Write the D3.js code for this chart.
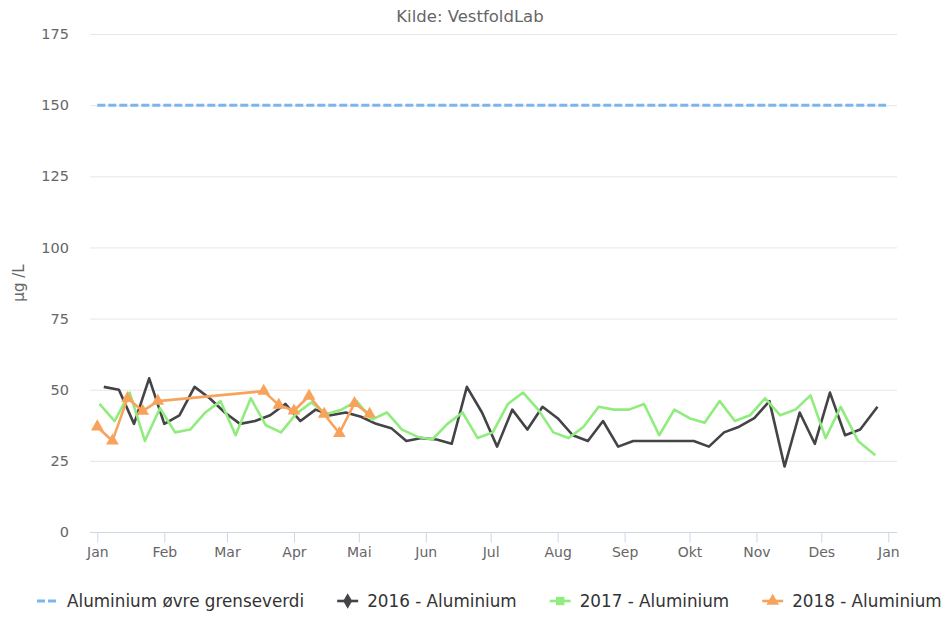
<!DOCTYPE html>
<html>
<head>
<meta charset="utf-8">
<script src="https://cdn.jsdelivr.net/npm/d3@7"></script>
<style>
  body { margin: 0; background: #fff; }
  text { font-family: "DejaVu Sans", sans-serif; }
</style>
</head>
<body>
<div id="viz-container"></div>
<script>
// data (all series drawn on a common 2016 calendar axis)
const limitDates = ['01-01', '12-31'];
const limitValues = [150, 150];

const dates2016 = ['01-04','01-11','01-18','01-25','02-01','02-08','02-15','02-22','02-29','03-07','03-14','03-21','03-28',
  '04-04','04-11','04-18','04-25','05-02','05-09','05-16','05-23','05-30','06-06','06-13','06-20','06-27',
  '07-04','07-11','07-18','07-25','08-01','08-08','08-15','08-22','08-29','09-05','09-12','09-19','09-26',
  '10-03','10-10','10-17','10-24','10-31','11-07','11-14','11-21','11-28','12-05','12-12','12-19','12-27'];
const values2016 = [51,50,38,54,38,41,51,47,42,38,39,41,45,
  39,43,41,42,40.5,38,36.5,32,33,32.5,31,51,42,
  30,43,36,44,40,34,32,39,30,32,32,32,32,
  32,30,35,37,40,46,23,42,31,49,34,36,44];

const dates2017 = ['01-02','01-09','01-16','01-23','01-30','02-06','02-13','02-20','02-27','03-05','03-12','03-19','03-26',
  '04-02','04-09','04-16','04-23','04-30','05-07','05-14','05-21','05-28','06-04','06-11','06-18','06-25',
  '07-02','07-09','07-16','07-23','07-30','08-06','08-13','08-20','08-27','09-03','09-10','09-17','09-24',
  '10-01','10-08','10-15','10-22','10-29','11-05','11-12','11-19','11-26','12-03','12-10','12-18','12-26'];
const values2017 = [45,39,49,32,43.5,35,36,42,46,34,47,37.5,35,
  41.5,45.5,41.5,43,46,39.5,42,36,33.5,32.5,38,42,33,
  35,45,49,43,35,33,37,44,43,43,45,34,43,
  40,38.4,46,39,41,47,41,43,48,33,44,32,27];

const dates2018 = ['01-01','01-08','01-15','01-22','01-29','03-18','03-25','04-01','04-08','04-15','04-22','04-29','05-06'];
const values2018 = [37,32,47,42.5,46,49.5,44.6,42.6,47.8,41.4,34.7,45.2,41.4];

const yTicks = [0, 25, 50, 75, 100, 125, 150, 175];
const monthLabels = ['Jan','Feb','Mar','Apr','Mai','Jun','Jul','Aug','Sep','Okt','Nov','Des','Jan'];

const legendNames = ['Aluminium øvre grenseverdi', '2016 - Aluminium', '2017 - Aluminium', '2018 - Aluminium'];
const colors = ['#7cb5ec', '#434348', '#90ed7d', '#f7a35c'];

let parseDay = d3.timeParse('%Y-%m-%d');
function toSeries(dates, values){
  return dates.map((d, i) => ({date: parseDay('2016-' + d), value: values[i]}));
}

let viz = d3.select('#viz-container')
  .append('svg')
    .attr('width', 951)
    .attr('height', 617)
;

let x = d3.scaleTime()
  .domain([new Date(2016, 0, 1), new Date(2017, 0, 1)])
  .range([97.3, 888.3]);
let y = d3.scaleLinear()
  .domain([0, 175])
  .range([532, 34]);

// subtitle
viz.append('text')
  .attr('x', 470)
  .attr('y', 22)
  .attr('text-anchor', 'middle')
  .attr('fill', '#666666')
  .style('font-size', '16.5px')
  .text('Kilde: VestfoldLab');

// grid
viz.append('g')
  .selectAll('line').data(yTicks.slice(1)).enter()
  .append('line')
    .attr('x1', 90)
    .attr('x2', 897)
    .attr('y1', d => y(d) + 0.5)
    .attr('y2', d => y(d) + 0.5)
    .attr('stroke', '#e6e6e6')
    .attr('stroke-width', 1);

// y axis labels
let yAxis = d3.axisLeft(y).tickValues(yTicks).tickSize(0).tickPadding(0);
viz.append('g')
  .attr('transform', 'translate(69,0)')
  .call(yAxis)
  .call(g => g.select('.domain').remove())
  .call(g => g.selectAll('text')
    .attr('fill', '#666666')
    .style('font-size', '14.5px')
    .style('font-family', '"DejaVu Sans", sans-serif'));

viz.append('text')
  .attr('transform', 'translate(24,283) rotate(-90)')
  .attr('text-anchor', 'middle')
  .attr('fill', '#666666')
  .style('font-size', '15px')
  .text('µg /L');

// x axis
let monthTicks = d3.timeMonth.range(new Date(2016, 0, 1), new Date(2017, 0, 2));
let xAxis = d3.axisBottom(x)
  .tickValues(monthTicks)
  .tickSize(10)
  .tickPadding(5)
  .tickFormat((d, i) => monthLabels[i]);
let xg = viz.append('g')
  .attr('transform', 'translate(0,532.5)')
  .call(xAxis);
xg.select('.domain')
  .attr('d', 'M90,0H897')
  .attr('stroke', '#ccd6eb');
xg.selectAll('.tick line').attr('stroke', '#ccd6eb');
xg.selectAll('.tick text')
  .attr('fill', '#666666')
  .style('font-size', '14px')
  .style('font-family', '"DejaVu Sans", sans-serif');

// series
let line = d3.line()
  .x(d => x(d.date))
  .y(d => y(d.value));

let limitData = toSeries(limitDates, limitValues);
let data2016 = toSeries(dates2016, values2016);
let data2017 = toSeries(dates2017, values2017);
let data2018 = toSeries(dates2018, values2018);

viz.append('path')
  .datum(limitData)
  .attr('d', line)
  .attr('fill', 'none')
  .attr('stroke', colors[0])
  .attr('stroke-width', 3)
  .attr('stroke-dasharray', '8,3');

[data2016, data2017, data2018].forEach((s, i) => {
  viz.append('path')
    .datum(s)
    .attr('d', line)
    .attr('fill', 'none')
    .attr('stroke', colors[i + 1])
    .attr('stroke-width', 2.6)
    .attr('stroke-linejoin', 'round');
});

let triangle = d3.symbol().type(d3.symbolTriangle).size(70);
viz.append('g')
  .selectAll('path').data(data2018).enter()
  .append('path')
    .attr('transform', d => 'translate(' + x(d.date) + ',' + y(d.value) + ')')
    .attr('d', triangle)
    .attr('fill', colors[3]);

// legend
let legend = viz.append('g').attr('transform', 'translate(0,601)');
let markers = [null, d3.symbolDiamond, d3.symbolSquare, d3.symbolTriangle];
let lx = 37;
legendNames.forEach((name, i) => {
  let item = legend.append('g').attr('transform', 'translate(' + lx + ',0)');
  item.append('line')
    .attr('x1', 0).attr('x2', 21)
    .attr('y1', 0).attr('y2', 0)
    .attr('stroke', colors[i])
    .attr('stroke-width', i == 0 ? 3 : 2.6)
    .attr('stroke-dasharray', i == 0 ? '8,3' : null);
  if (markers[i]) {
    item.append('path')
      .attr('transform', 'translate(10.5,0)')
      .attr('d', d3.symbol().type(markers[i]).size(i == 2 ? 70 : 70))
      .attr('fill', colors[i]);
  }
  let t = item.append('text')
    .attr('x', 30)
    .attr('y', 6)
    .attr('fill', '#333333')
    .style('font-size', '16.8px')
    .text(name);
  lx += 30 + t.node().getComputedTextLength() + 33;
});
</script>
</body>
</html>
